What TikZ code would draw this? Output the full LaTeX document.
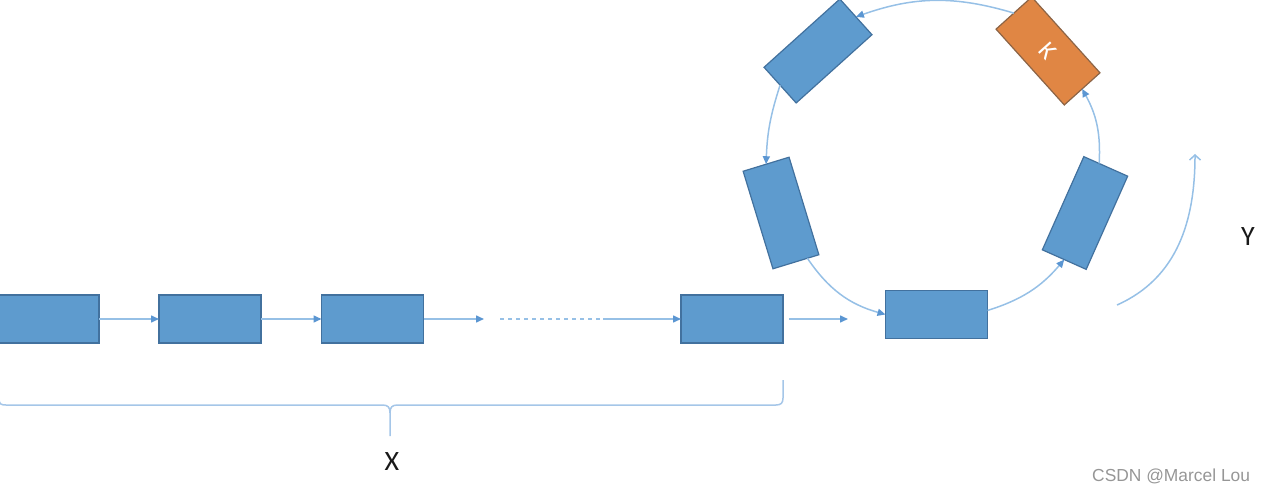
\documentclass[tikz,border=0pt]{standalone}
\usepackage{fontspec}
\setmainfont{Carlito}
\newfontfamily\wmfont{Liberation Sans}
\usetikzlibrary{arrows.meta,calc}
\definecolor{boxfill}{RGB}{94,155,206}
\definecolor{boxline}{RGB}{66,113,158}
\definecolor{kfill}{RGB}{224,134,68}
\definecolor{kline}{RGB}{140,100,70}
\definecolor{linec}{RGB}{150,192,230}
\definecolor{tipc}{RGB}{91,150,210}
\definecolor{bracec}{RGB}{165,198,232}
\definecolor{wmc}{RGB}{150,150,150}
\begin{document}
\begin{tikzpicture}[x=1pt,y=1pt,
  blk/.style={draw=boxline,fill=boxfill,line width=1.2pt,minimum width=102pt,minimum height=48pt,inner sep=0pt,outer sep=0pt},
  kblk/.style={blk,draw=kline,fill=kfill,text=white},
  conn/.style={draw=linec,line width=1.5pt,-{Triangle[length=8pt,width=7pt,color=tipc]}},
  lbl/.style={font=\fontsize{28}{30}\selectfont,text=black!90}
]
\useasboundingbox (0,0) rectangle (1274,-492);
% linear chain
\node[blk] (b1) at (48,-319) {};
\node[blk] (b2) at (210,-319) {};
\node[blk] (b3) at (372.5,-319) {};
\node[blk] (b5) at (732,-319) {};
\coordinate (a3) at (484,-319);
\coordinate (d1) at (500,-319);
\coordinate (d2) at (603,-319);
\coordinate (a5) at (848,-319);
\draw[conn] (b1.east) -- (b2.west);
\draw[conn] (b2.east) -- (b3.west);
\draw[conn] (b3.east) -- (a3);
\draw[draw=linec,line width=1.5pt,dash pattern=on 4pt off 4pt] (d1) -- (d2);
\draw[conn] (d2) -- (b5.west);
\draw[conn,shorten <=6pt] (b5.east) -- (a5);
% ring
\node[blk] (r1) at (936.5,-314.5) {};
\node[blk,rotate=66] (r2) at (1085,-213) {};
\node[kblk,rotate=-48,font=\fontsize{25}{27}\selectfont] (r3) at (1048,-51) {K};
\node[blk,rotate=42] (r4) at (818,-51) {};
\node[blk,rotate=-73] (r5) at (781,-213) {};
\draw[conn] ($(r1.east)+(0,4)$) to[bend right=16] (r2.west);
\draw[conn] ($(r2.east)!0.3!(r2.north east)$) to[bend right=16] (r3.east);
\draw[conn] (r3.west) to[bend right=18] (r4.east);
\draw[conn] (r4.west) to[bend right=8] (r5.west);
\draw[conn] ($(r5.east)!0.5!(r5.north east)$) to[bend right=20] (r1.west);
% Y arrow
\coordinate (y1) at (1117,-305);
\coordinate (y2) at (1195,-154);
\draw[draw=linec,line width=1.5pt,-{Straight Barb[length=5pt,width=11pt,color=linec]}] (y1) to[out=24,in=-90] (y2);
\node[lbl] (ylab) at (1248,-237) {Y};
% X brace
\draw[draw=bracec,line width=1.5pt] (-1,-384) -- (-1,-399) .. controls (-1,-404) and (1,-405) .. (6,-405)
  -- (382,-405) .. controls (388,-405) and (390,-407) .. (390,-413) -- (390,-436);
\draw[draw=bracec,line width=1.5pt] (390,-413) .. controls (390,-407) and (392,-405) .. (398,-405)
  -- (776,-405) .. controls (781,-405) and (783,-403) .. (783,-398) -- (783,-380);
\node[lbl] (xlab) at (392,-462) {X};
% watermark
\node[font=\wmfont\fontsize{17.4}{19}\selectfont,text=wmc,anchor=west,inner sep=0pt] (wm) at (1092,-476) {CSDN @Marcel Lou};
\end{tikzpicture}
\end{document}
